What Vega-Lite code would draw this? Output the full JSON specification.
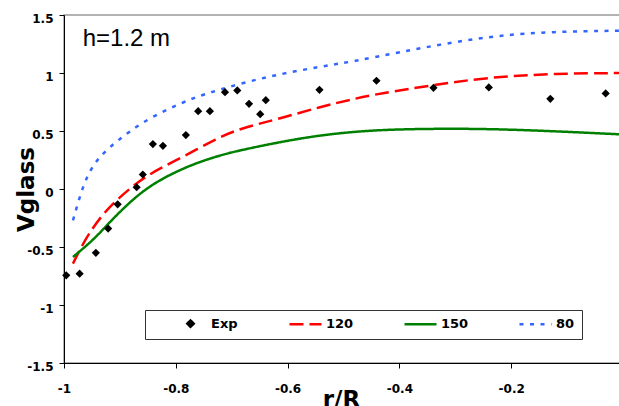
{
  "$schema": "https://vega.github.io/schema/vega-lite/v6.json",
  "width": 559,
  "height": 348,
  "autosize": {"type": "none"},
  "padding": {"left": 64, "top": 15, "right": -4, "bottom": 43},
  "background": "white",
  "config": {
    "locale": {"number": {"decimal": ".", "thousands": ",", "grouping": [3], "currency": ["$", ""], "minus": "-"}},
    "view": {"stroke": "#999999", "strokeWidth": 1.5},
    "axis": {
      "domainColor": "black", "tickColor": "black", "domainWidth": 1, "tickWidth": 1, "tickSize": 5, "grid": false,
      "labelFont": "DejaVu Sans", "labelFontWeight": "bold", "labelFontSize": 12, "labelColor": "black",
      "titleFont": "DejaVu Sans", "titleFontWeight": "bold", "titleFontSize": 23, "titleColor": "black"
    },
    "legend": {
      "orient": "none", "legendX": 81, "legendY": 295, "direction": "horizontal", "columns": 4, "title": null,
      "symbolSize": 64, "symbolStrokeWidth": 2.5, "labelFont": "DejaVu Sans", "labelFontWeight": "bold", "labelFontSize": 13, "labelColor": "black",
      "padding": 7, "strokeColor": "#333333", "fillColor": "white", "symbolOffset": 32, "labelOffset": 14, "columnPadding": 28, "gridAlign": "all"
    }
  },
  "layer": [
    {
      "data": {"values": [
        {"series": "120", "r": -0.984, "v": -0.643}, {"series": "120", "r": -0.96, "v": -0.413}, {"series": "120", "r": -0.93, "v": -0.211}, {"series": "120", "r": -0.9, "v": -0.068}, {"series": "120", "r": -0.864, "v": 0.076}, {"series": "120", "r": -0.829, "v": 0.177}, {"series": "120", "r": -0.781, "v": 0.292}, {"series": "120", "r": -0.727, "v": 0.436}, {"series": "120", "r": -0.685, "v": 0.522}, {"series": "120", "r": -0.613, "v": 0.608}, {"series": "120", "r": -0.542, "v": 0.708}, {"series": "120", "r": -0.482, "v": 0.776}, {"series": "120", "r": -0.435, "v": 0.824}, {"series": "120", "r": -0.339, "v": 0.896}, {"series": "120", "r": -0.244, "v": 0.962}, {"series": "120", "r": -0.124, "v": 0.995}, {"series": "120", "r": 0, "v": 1.0},
        {"series": "150", "r": -0.984, "v": -0.586}, {"series": "150", "r": -0.948, "v": -0.442}, {"series": "150", "r": -0.918, "v": -0.284}, {"series": "150", "r": -0.888, "v": -0.14}, {"series": "150", "r": -0.864, "v": -0.039}, {"series": "150", "r": -0.835, "v": 0.061}, {"series": "150", "r": -0.793, "v": 0.165}, {"series": "150", "r": -0.757, "v": 0.234}, {"series": "150", "r": -0.721, "v": 0.29}, {"series": "150", "r": -0.685, "v": 0.334}, {"series": "150", "r": -0.613, "v": 0.406}, {"series": "150", "r": -0.542, "v": 0.464}, {"series": "150", "r": -0.47, "v": 0.499}, {"series": "150", "r": -0.399, "v": 0.516}, {"series": "150", "r": -0.28, "v": 0.522}, {"series": "150", "r": -0.16, "v": 0.507}, {"series": "150", "r": 0, "v": 0.47},
        {"series": "80", "r": -0.984, "v": -0.27}, {"series": "80", "r": -0.972, "v": -0.07}, {"series": "80", "r": -0.96, "v": 0.1}, {"series": "80", "r": -0.942, "v": 0.25}, {"series": "80", "r": -0.918, "v": 0.363}, {"series": "80", "r": -0.885, "v": 0.49}, {"series": "80", "r": -0.841, "v": 0.63}, {"series": "80", "r": -0.781, "v": 0.76}, {"series": "80", "r": -0.757, "v": 0.805}, {"series": "80", "r": -0.685, "v": 0.91}, {"series": "80", "r": -0.613, "v": 0.992}, {"series": "80", "r": -0.542, "v": 1.054}, {"series": "80", "r": -0.482, "v": 1.1}, {"series": "80", "r": -0.399, "v": 1.18}, {"series": "80", "r": -0.309, "v": 1.262}, {"series": "80", "r": -0.22, "v": 1.325}, {"series": "80", "r": -0.13, "v": 1.356}, {"series": "80", "r": 0, "v": 1.365}
      ]},
      "mark": {"type": "line", "interpolate": "basis", "strokeWidth": 2.5, "clip": true},
      "encoding": {
        "x": {"field": "r", "type": "quantitative", "scale": {"domain": [-1, 0], "nice": false, "zero": false},
          "axis": {"values": [-1, -0.8, -0.6, -0.4, -0.2, 0], "format": "~g", "labelBaseline": "top", "labelPadding": 15, "labelFlush": false, "labelOverlap": false, "title": "r/R", "titleX": 277, "titleY": 43, "titleBaseline": "alphabetic"}},
        "y": {"field": "v", "type": "quantitative", "scale": {"domain": [-1.5, 1.5], "nice": false, "zero": false},
          "axis": {"values": [-1.5, -1, -0.5, 0, 0.5, 1, 1.5], "format": "~g", "labelPadding": 6, "labelOffset": 3, "labelFlush": false, "labelOverlap": false, "title": "Vglass", "titleX": -30.5, "titleY": 174, "titleAngle": -90, "titleBaseline": "alphabetic", "titleAlign": "center"}},
        "color": {"field": "series", "type": "nominal", "scale": {"domain": ["Exp", "120", "150", "80"], "range": ["black", "#FF0000", "#008000", "#3366FF"]}},
        "strokeDash": {"field": "series", "type": "nominal", "scale": {"domain": ["Exp", "120", "150", "80"], "range": [[1, 0], [14, 6], [1, 0], [4, 6.5]]}}
      }
    },
    {
      "data": {"values": [
        {"series": "Exp", "r": -0.996, "v": -0.744}, {"series": "Exp", "r": -0.972, "v": -0.73}, {"series": "Exp", "r": -0.943, "v": -0.55}, {"series": "Exp", "r": -0.921, "v": -0.341}, {"series": "Exp", "r": -0.904, "v": -0.132}, {"series": "Exp", "r": -0.87, "v": 0.015}, {"series": "Exp", "r": -0.859, "v": 0.125}, {"series": "Exp", "r": -0.841, "v": 0.387}, {"series": "Exp", "r": -0.823, "v": 0.372}, {"series": "Exp", "r": -0.782, "v": 0.465}, {"series": "Exp", "r": -0.76, "v": 0.671}, {"series": "Exp", "r": -0.739, "v": 0.671}, {"series": "Exp", "r": -0.712, "v": 0.835}, {"series": "Exp", "r": -0.69, "v": 0.85}, {"series": "Exp", "r": -0.669, "v": 0.734}, {"series": "Exp", "r": -0.649, "v": 0.645}, {"series": "Exp", "r": -0.639, "v": 0.766}, {"series": "Exp", "r": -0.543, "v": 0.855}, {"series": "Exp", "r": -0.441, "v": 0.933}, {"series": "Exp", "r": -0.339, "v": 0.872}, {"series": "Exp", "r": -0.24, "v": 0.876}, {"series": "Exp", "r": -0.13, "v": 0.777}, {"series": "Exp", "r": -0.031, "v": 0.824}
      ]},
      "mark": {"type": "point", "filled": true, "opacity": 1, "size": 105},
      "encoding": {
        "x": {"field": "r", "type": "quantitative"},
        "y": {"field": "v", "type": "quantitative"},
        "color": {"field": "series", "type": "nominal"},
        "shape": {"field": "series", "type": "nominal", "scale": {"domain": ["Exp", "120", "150", "80"], "range": ["M-0.8,0L0,-0.8L0.8,0L0,0.8Z", "M-4,0H4", "M-4,0H4", "M-4,0H4"]}}
      }
    },
    {
      "data": {"values": [{"note": "h=1.2 m"}]},
      "mark": {"type": "text", "align": "left", "baseline": "alphabetic", "font": "Liberation Sans", "fontSize": 24, "color": "black"},
      "encoding": {
        "x": {"datum": -0.9665, "type": "quantitative"},
        "y": {"datum": 1.232, "type": "quantitative"},
        "text": {"field": "note", "type": "nominal"}
      }
    }
  ]
}
